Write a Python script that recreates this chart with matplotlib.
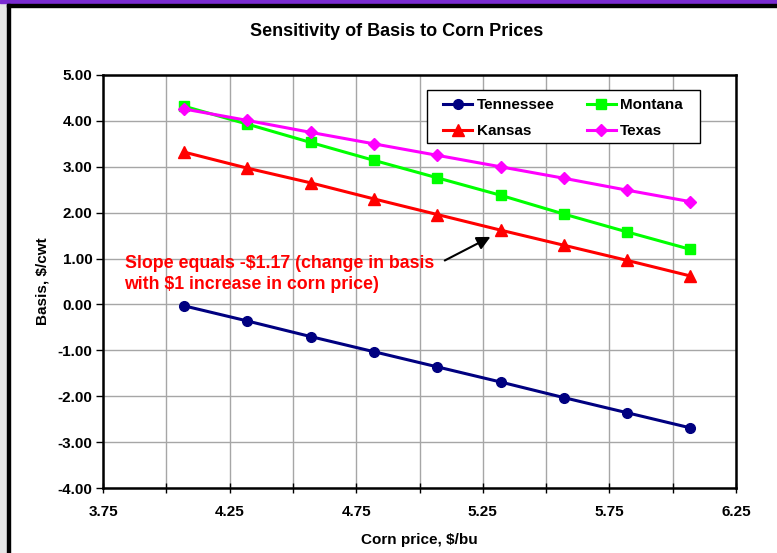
import matplotlib
matplotlib.use("Agg")
import matplotlib.pyplot as plt
from matplotlib.patches import Rectangle

corn_price = [4.07, 4.32, 4.57, 4.82, 5.07, 5.32, 5.57, 5.82, 6.07]
tennessee = [-0.03, -0.36, -0.70, -1.03, -1.36, -1.69, -2.03, -2.36, -2.69]
montana = [4.32, 3.93, 3.53, 3.14, 2.76, 2.38, 1.97, 1.58, 1.20]
kansas = [3.32, 2.97, 2.65, 2.30, 1.96, 1.62, 1.29, 0.96, 0.62]
texas = [4.26, 4.01, 3.75, 3.50, 3.25, 3.00, 2.75, 2.49, 2.24]

x_ticks = [3.75, 4.25, 4.75, 5.25, 5.75, 6.25]
y_ticks = [5, 4, 3, 2, 1, 0, -1, -2, -3, -4]

plt.rcParams['font.family'] = ['Liberation Sans', 'DejaVu Sans']
W, H = 777, 553
fig = plt.figure(figsize=(W / 100, H / 100), dpi=100)

def px_rect(x0, y0, x1, y1, color):
    fig.patches.append(Rectangle((x0 / W, 1 - y1 / H), (x1 - x0) / W, (y1 - y0) / H,
                                 transform=fig.transFigure, color=color, zorder=0))

px_rect(0, 0, 7, H, '#e6e6e6')
px_rect(0, 0, W, 3, '#7a2bd1')
px_rect(7, 4, W, 7, 'black')
px_rect(7, 4, 10, H, 'black')

AX_L, AX_R, AX_T, AX_B = 103, 736, 75, 488
ax = fig.add_axes([AX_L / W, 1 - AX_B / H, (AX_R - AX_L) / W, (AX_B - AX_T) / H])

def ax_frac(px, py):
    return ((px - AX_L) / (AX_R - AX_L), (AX_B - py) / (AX_B - AX_T))

series = [
    ('Tennessee', tennessee, '#000080', 'o', 7),
    ('Montana', montana, '#00ff00', 's', 7),
    ('Kansas', kansas, '#ff0000', '^', 8),
    ('Texas', texas, '#ff00ff', 'D', 6.5),
]
handles = {}
for name, vals, col, mk, ms in series:
    h, = ax.plot(corn_price, vals, color=col, lw=2.2, marker=mk, ms=ms,
                 markeredgecolor=col, zorder=3, label=name)
    handles[name] = h

ax.set_xlim(3.75, 6.25)
ax.set_ylim(-4, 5)
all_x = [3.75 + 0.25 * i for i in range(11)]
ax.set_xticks(all_x)
ax.set_xticklabels([f"{t:.2f}" if any(abs(t - v) < 1e-9 for v in x_ticks) else '' for t in all_x])
ax.set_yticks(y_ticks)
ax.set_yticklabels([f"{v:.2f}" for v in y_ticks])
ax.grid(True, color='#a6a6a6', lw=1)
ax.set_axisbelow(True)
for s in ax.spines.values():
    s.set_linewidth(1.8)
    s.set_color('black')
ax.tick_params(axis='x', direction='inout', length=7, width=1, labelsize=11, pad=9)
ax.tick_params(axis='y', direction='out', length=5, width=1, labelsize=11, pad=2.5)
for lab in ax.get_xticklabels() + ax.get_yticklabels():
    lab.set_fontweight('bold')

ax.set_xlabel('Corn price, $/bu', fontsize=11, fontweight='bold', labelpad=10)
ax.set_ylabel('Basis, $/cwt', fontsize=11, fontweight='bold', labelpad=6)
fig.text(397 / W, 1 - 32 / H, 'Sensitivity of Basis to Corn Prices', ha='center', va='center',
         fontsize=13, fontweight='bold')

# legend box drawn separately for exact padding
x0, y0 = ax_frac(427, 143)
x1, y1 = ax_frac(700, 90)
ax.add_patch(Rectangle((x0, y0), x1 - x0, y1 - y0, transform=ax.transAxes,
                       facecolor='white', edgecolor='black', lw=1, zorder=4))
leg = ax.legend([handles['Tennessee'], handles['Kansas'], handles['Montana'], handles['Texas']],
                ['Tennessee', 'Kansas', 'Montana', 'Texas'], ncol=2,
                loc='upper left', bbox_to_anchor=ax_frac(443, 98),
                borderaxespad=0, borderpad=0, frameon=False,
                prop={'weight': 'bold', 'size': 11}, handlelength=1.9, handletextpad=0.3,
                columnspacing=2.1, labelspacing=0.8)
leg.set_zorder(5)

ax.annotate('', xy=(5.29, 1.50), xytext=(5.09, 0.93),
            arrowprops=dict(arrowstyle='-|>', color='black', lw=1.5, mutation_scale=20))
ax.text(3.835, 0.66, 'Slope equals -$1.17 (change in basis\nwith $1 increase in corn price)',
        color='red', fontsize=12.8, fontweight='bold', ha='left', va='center', linespacing=1.3)

fig.savefig('out.png', dpi=100)
